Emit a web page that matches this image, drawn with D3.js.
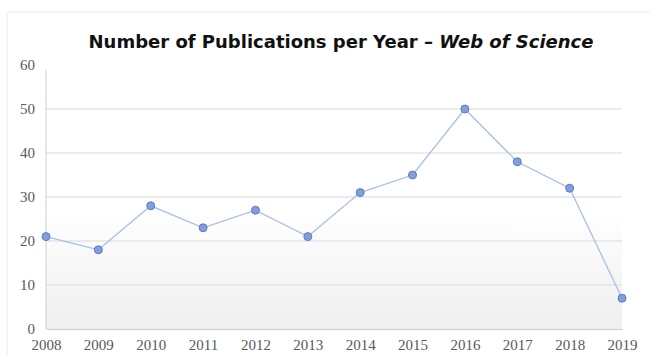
<!DOCTYPE html>
<html>
<head>
<meta charset="utf-8">
<script src="https://cdn.jsdelivr.net/npm/d3@7"></script>
<style>
  body { margin: 0; background: #fff; }
</style>
</head>
<body>
<div id="chart"></div>
<script>
// publications per year (Web of Science)
const years = [2008, 2009, 2010, 2011, 2012, 2013, 2014, 2015, 2016, 2017, 2018, 2019];
const counts = [21, 18, 28, 23, 27, 21, 31, 35, 50, 38, 32, 7];
const yTicks = [0, 10, 20, 30, 40, 50, 60];

const width = 652, height = 357;
const margin = { top: 65, right: 30, bottom: 28, left: 46 };

const svg = d3.select("#chart").append("svg")
  .attr("width", width)
  .attr("height", height)
  .style("display", "block");

const x = d3.scalePoint()
  .domain(years)
  .range([margin.left, width - margin.right]);

const y = d3.scaleLinear()
  .domain([0, 60])
  .range([height - margin.bottom, margin.top]);

// faint outer frame
svg.append("path")
  .attr("d", `M7,${height} V12 H650`)
  .attr("fill", "none")
  .attr("stroke", "#ececec");

// plot background gradient
const grad = svg.append("defs").append("linearGradient")
  .attr("id", "bg")
  .attr("x1", 0).attr("y1", 0).attr("x2", 0).attr("y2", 1);
grad.append("stop").attr("offset", "0%").attr("stop-color", "#ffffff");
grad.append("stop").attr("offset", "55%").attr("stop-color", "#ffffff");
grad.append("stop").attr("offset", "100%").attr("stop-color", "#efefef");

svg.append("rect")
  .attr("x", x(years[0]))
  .attr("y", y(60))
  .attr("width", x(years[years.length - 1]) - x(years[0]))
  .attr("height", y(0) - y(60))
  .attr("fill", "url(#bg)");

// gridlines
svg.append("g")
  .selectAll("line")
  .data(yTicks.filter((d) => d > 0 && d < 60))
  .join("line")
  .attr("x1", x(years[0]))
  .attr("x2", x(years[years.length - 1]))
  .attr("y1", (d) => y(d))
  .attr("y2", (d) => y(d))
  .attr("stroke", "#d9d9d9");

// axes
const yAxis = svg.append("g")
  .attr("transform", `translate(${margin.left},0)`)
  .call(d3.axisLeft(y).tickValues(yTicks).tickSize(0).tickPadding(11));
yAxis.select(".domain").attr("stroke", "#cfcfcf").attr("d", `M0,${y(59)}V${y(0)}`);

const xAxis = svg.append("g")
  .attr("transform", `translate(0,${y(0)})`)
  .call(d3.axisBottom(x).tickSize(0).tickPadding(10));
xAxis.select(".domain").attr("stroke", "#cfcfcf");

svg.selectAll(".tick text")
  .attr("fill", "#595959")
  .attr("font-family", "'Liberation Serif', 'DejaVu Serif', serif")
  .attr("font-size", 15);

// line + markers
const line = d3.line()
  .x((d, i) => x(years[i]))
  .y((d) => y(d));

svg.append("path")
  .datum(counts)
  .attr("d", line)
  .attr("fill", "none")
  .attr("stroke", "#a8bfe8")
  .attr("stroke-width", 1.3);

svg.append("g")
  .selectAll("circle")
  .data(counts)
  .join("circle")
  .attr("cx", (d, i) => x(years[i]))
  .attr("cy", (d) => y(d))
  .attr("r", 4)
  .attr("fill", "#849ddb")
  .attr("stroke", "#5b7cc9")
  .attr("stroke-width", 1);

// title
const title = svg.append("text")
  .attr("x", 341)
  .attr("y", 48)
  .attr("text-anchor", "middle")
  .attr("font-family", "'DejaVu Sans', Verdana, sans-serif")
  .attr("font-size", 18)
  .attr("font-weight", "bold")
  .attr("fill", "#111");
title.append("tspan").text("Number of Publications per Year \u2013 ");
title.append("tspan").attr("font-style", "italic").text("Web of Science");
</script>
</body>
</html>
